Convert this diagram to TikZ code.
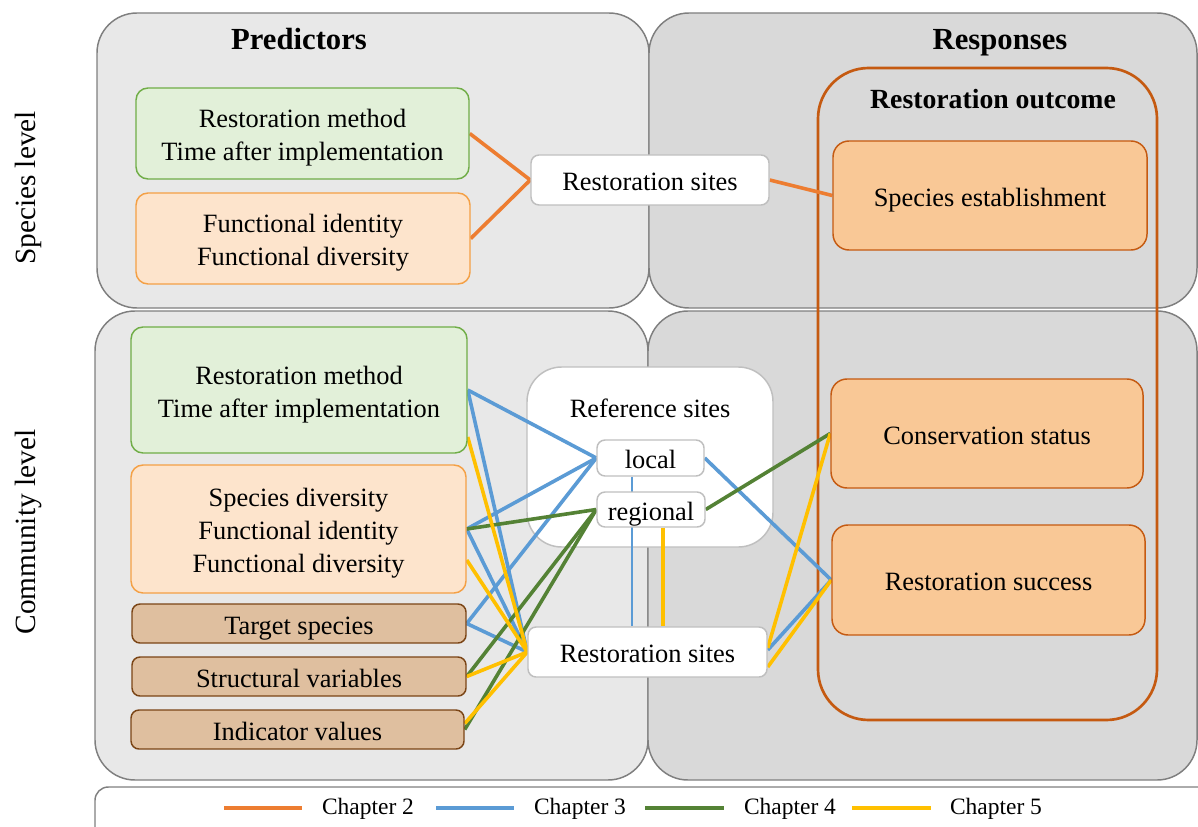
\documentclass[tikz,border=0pt]{standalone}
\usepackage{fontspec}
\setmainfont{Liberation Serif}
\usetikzlibrary{calc}
\definecolor{panelL}{HTML}{E8E8E8}
\definecolor{panelD}{HTML}{D9D9D9}
\definecolor{panelB}{HTML}{7F7F7F}
\definecolor{gfill}{HTML}{E2F0D9}
\definecolor{gline}{HTML}{70AD47}
\definecolor{ofill}{HTML}{FDE4CC}
\definecolor{oline}{HTML}{F4A045}
\definecolor{tfill}{HTML}{DFBF9F}
\definecolor{tline}{HTML}{7B4516}
\definecolor{dfill}{HTML}{F9C896}
\definecolor{dline}{HTML}{C55A11}
\definecolor{sitebd}{HTML}{BFBFBF}
\definecolor{cOrange}{HTML}{ED7D31}
\definecolor{cBlue}{HTML}{5B9BD5}
\definecolor{cGreen}{HTML}{548235}
\definecolor{cYellow}{HTML}{FFC000}
\pgfdeclarelayer{bg}
\pgfdeclarelayer{lines}
\pgfsetlayers{bg,lines,main}
\tikzset{
  txt/.style={font=\fontsize{19.8}{24.75}\selectfont, align=center, text=black},
  sz/.style 2 args={minimum width=#1*0.75pt, minimum height=#2*0.75pt},
  basebox/.style={txt, rounded corners=9pt, line width=1.1pt, inner sep=0pt,
    execute at begin node={\rule[-4.4pt]{0pt}{25.1pt}}},
  mltwo/.style={text height=45.25pt, text depth=4.4pt},
  mlthree/.style={text height=70pt, text depth=4.4pt},
  gbox/.style={basebox, draw=gline, fill=gfill},
  obox/.style={basebox, draw=oline, fill=ofill},
  tbox/.style={basebox, draw=tline, fill=tfill, rounded corners=6pt},
  dbox/.style={basebox, draw=dline, fill=dfill, rounded corners=12pt},
  sitebox/.style={basebox, draw=sitebd, fill=white, rounded corners=6pt},
  refbox/.style={draw=sitebd, fill=white, line width=1.1pt, inner sep=0pt, rounded corners=26pt},
  panel/.style={draw=panelB, line width=1.1pt, rounded corners=30pt},
  head/.style={font=\bfseries\fontsize{23}{28}\selectfont, text=black, anchor=base},
  subhead/.style={font=\bfseries\fontsize{20.8}{25}\selectfont, text=black, anchor=base},
  sidelabel/.style={font=\fontsize{22}{26}\selectfont, rotate=90, text=black},
  legtxt/.style={font=\fontsize{17.6}{21}\selectfont, text=black},
  conn/.style={line width=2.7pt},
  chtwo/.style={conn, draw=cOrange},
  chthree/.style={conn, draw=cBlue},
  chfour/.style={conn, draw=cGreen},
  chfive/.style={conn, draw=cYellow},
  thinblue/.style={line width=1.3pt, draw=cBlue},
}
\begin{document}
\begin{tikzpicture}[x=0.75pt,y=-0.75pt]
\useasboundingbox (0,0) rectangle (1198,827);
\clip (0,0) rectangle (1198,827);
\begin{pgfonlayer}{bg}
  % panels
  \draw[panel, fill=panelL] (97,13) rectangle (649,308);
  \draw[panel, fill=panelD] (649,13) rectangle (1197,308);
  \draw[panel, fill=panelL] (95,311) rectangle (648,780);
  \draw[panel, fill=panelD] (648,311) rectangle (1197,780);
  % legend frame
  \draw[draw=panelB, fill=white, line width=1.1pt, rounded corners=10pt] (95,787) rectangle (1220,860);
  % restoration outcome frame
  \draw[draw=dline, line width=2pt, rounded corners=38pt] (818,68) rectangle (1157,720);
  % reference sites box
  \node[refbox, sz={246}{180}] (ref) at (650,457) {};
\end{pgfonlayer}

% headings
\node[head] (pred) at (299,50) {Predictors};
\node[head] (resp) at (1000,50) {Responses};
\node[subhead] (outc) at (993,109) {Restoration outcome};
\node[sidelabel] (splev) at (28,188) {Species level};
\node[sidelabel] (comlev) at (28,532) {Community level};

% species level
\node[gbox, mltwo, sz={333}{91}] (g1) at (302.5,133.5) {Restoration method\\Time after implementation};
\node[obox, mltwo, sz={334}{91}] (o1) at (303,238.5) {Functional identity\\Functional diversity};
\node[sitebox, sz={238}{50}] (rs1) at (650,180) {Restoration sites};
\node[dbox, sz={314}{109}] (se) at (990,195.5) {Species establishment};

% community level
\node[gbox, mltwo, sz={336}{126}] (g2) at (299,390) {Restoration method\\Time after implementation};
\node[obox, mlthree, sz={335}{128}] (o2) at (298.5,529) {Species diversity\\Functional identity\\Functional diversity};
\node[tbox, sz={334}{39}] (ts) at (299,623.5) {Target species};
\node[tbox, sz={334}{39}] (sv) at (299,676.5) {Structural variables};
\node[tbox, sz={333}{39}] (iv) at (297.5,729.5) {Indicator values};
\node[txt] (reft) at (650,408) {Reference sites};
\node[sitebox, sz={107}{36}] (loc) at (650.5,458) {local};
\node[sitebox, sz={108}{35}] (reg) at (651,509.5) {regional};
\node[sitebox, sz={239}{50}] (rs2) at (647.5,652) {Restoration sites};
\node[dbox, sz={312}{109}] (cs) at (987,433.5) {Conservation status};
\node[dbox, sz={313}{110}] (rsu) at (988.5,580) {Restoration success};

% legend
\coordinate (l2a) at (224,808); \coordinate (l2b) at (302,808);
\coordinate (l3a) at (436,808); \coordinate (l3b) at (514,808);
\coordinate (l4a) at (645,808); \coordinate (l4b) at (724,808);
\coordinate (l5a) at (852,808); \coordinate (l5b) at (931,808);
\node[legtxt] (t2) at (368,809) {Chapter 2};
\node[legtxt] (t3) at (580,809) {Chapter 3};
\node[legtxt] (t4) at (790,809) {Chapter 4};
\node[legtxt] (t5) at (996,809) {Chapter 5};

\begin{pgfonlayer}{lines}
  % legend samples
  \draw[chtwo] (l2a) -- (l2b);
  \draw[chthree] (l3a) -- (l3b);
  \draw[chfour] (l4a) -- (l4b);
  \draw[chfive] (l5a) -- (l5b);
  % chapter 2
  \draw[chtwo] (g1.east) -- (rs1.west);
  \draw[chtwo] (o1.east) -- (rs1.west);
  \draw[chtwo] (rs1.east) -- (se.west);
  % chapter 3
  \draw[chthree] (g2.east) -- (loc.west);
  \draw[chthree] (g2.east) -- (rs2.west);
  \draw[chthree] (o2.east) -- (loc.west);
  \draw[chthree] (o2.east) -- (rs2.west);
  \draw[chthree] (ts.east) -- (loc.west);
  \draw[chthree] (ts.east) -- (rs2.west);
  \coordinate (bl) at ($(loc.south)+(-18.5,0)$);
  \draw[thinblue] (bl) -- (bl |- rs2.north);
  \draw[chthree] (loc.east) -- (rsu.west);
  \draw[chthree] ($(rs2.east)+(0,-2)$) -- (rsu.west);
  % chapter 4
  \draw[chfour] (o2.east) -- (reg.west);
  \draw[chfour] (sv.east) -- (reg.west);
  \draw[chfour] (iv.east) -- (reg.west);
  \draw[chfour] (reg.east) -- (cs.west);
  % chapter 5
  \draw[chfive] ($(g2.east)+(0,47)$) -- (rs2.west);
  \draw[chfive] ($(o2.east)+(0,31)$) -- (rs2.west);
  \draw[chfive] (sv.east) -- (rs2.west);
  \draw[chfive] ($(iv.east)+(0,-6)$) -- (rs2.west);
  \coordinate (yl) at ($(reg.south)+(12,0)$);
  \draw[chfive] (yl) -- (yl |- rs2.north);
  \draw[chfive] ($(rs2.east)+(0,-4)$) -- (cs.west);
  \draw[chfive] ($(rs2.east)+(0,15)$) -- (rsu.west);
\end{pgfonlayer}
\end{tikzpicture}
\end{document}
